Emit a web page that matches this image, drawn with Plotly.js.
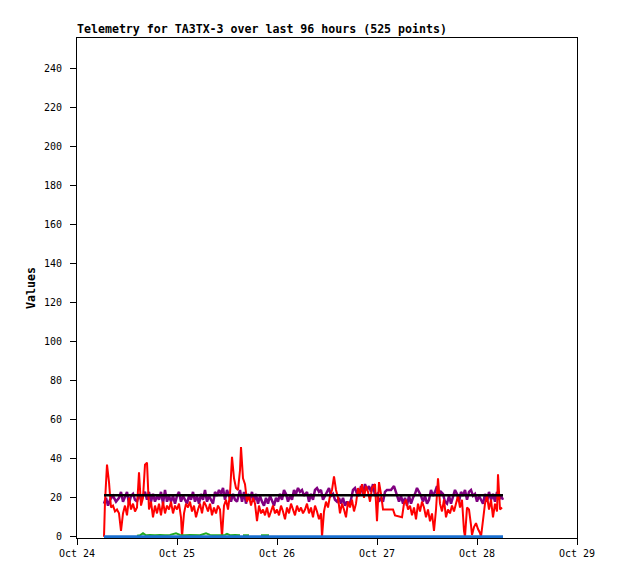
<!DOCTYPE html>
<html>
<head>
<meta charset="utf-8">
<script src="https://cdn.plot.ly/plotly-3.0.1.min.js"></script>
<style>html,body{margin:0;padding:0;background:#fff;}#chart{width:618px;height:579px;}</style>
</head>
<body>
<div id="chart"></div>
<script>
// Times are in days since Oct 24 00:00
const baseDate = "2023-10-24T00:00:00";
const xTickLabels = ["Oct 24", "Oct 25", "Oct 26", "Oct 27", "Oct 28", "Oct 29"];

const redT = [0.27,0.28,0.30,0.32,0.34,0.36,0.38,0.40,0.42,0.44,0.46,0.48,0.50,0.52,0.54,0.56,0.58,0.60,0.62,0.64,0.66,0.68,0.70,0.72,0.74,0.76,0.78,0.80,0.82,0.84,0.86,0.88,0.90,0.92,0.94,0.96,0.98,1.00,1.02,1.04,1.05,1.07,1.09,1.11,1.13,1.15,1.17,1.19,1.21,1.23,1.25,1.27,1.29,1.31,1.33,1.35,1.37,1.39,1.41,1.43,1.45,1.47,1.49,1.51,1.53,1.55,1.57,1.59,1.61,1.63,1.64,1.66,1.68,1.70,1.72,1.74,1.76,1.78,1.80,1.82,1.84,1.86,1.88,1.90,1.92,1.94,1.96,1.98,2.00,2.02,2.04,2.06,2.08,2.10,2.12,2.14,2.16,2.18,2.20,2.22,2.24,2.26,2.28,2.30,2.32,2.34,2.36,2.38,2.40,2.42,2.44,2.45,2.47,2.49,2.51,2.53,2.55,2.57,2.59,2.61,2.63,2.65,2.67,2.69,2.71,2.73,2.75,2.77,2.79,2.81,2.83,2.85,2.87,2.89,2.91,2.93,2.95,2.98,3.00,3.02,3.04,3.06,3.16,3.18,3.25,3.27,3.29,3.31,3.33,3.35,3.37,3.39,3.41,3.43,3.45,3.47,3.49,3.51,3.53,3.55,3.57,3.59,3.61,3.63,3.65,3.67,3.69,3.71,3.73,3.75,3.77,3.79,3.81,3.83,3.85,3.87,3.88,3.90,3.92,3.94,3.95,3.97,3.99,4.01,4.03,4.04,4.06,4.08,4.10,4.12,4.14,4.16,4.18,4.20,4.21,4.23,4.25];
const redV = [0,18,37,28,15,16,13,14,12,3,12,16,11,20,14,17,13,15,33,16,20,37,38,14,18,10,16,12,17,11,18,12,16,14,18,12,16,14,17,10,0,12,17,15,18,13,16,10,14,17,12,18,16,13,17,11,15,12,16,14,0,16,19,14,22,41,30,25,24,34,46,30,27,18,21,16,20,17,8,16,12,14,11,15,10,13,16,12,14,11,16,13,9,15,12,17,14,11,16,13,15,12,14,17,12,15,10,16,13,9,12,0,13,18,15,21,24,31,24,20,12,17,14,10,18,15,19,13,17,25,22,27,20,26,23,18,25,27,8,28,22,14,14,11,10,17,19,14,16,11,15,9,17,13,18,15,10,14,8,12,3,14,30,17,13,19,10,14,12,16,13,17,21,15,19,3,0,15,14,6,1,5,7,4,2,0,10,17,21,14,19,10,17,13,32,14,15];

const purpleT = [0.27,0.29,0.31,0.33,0.36,0.39,0.42,0.44,0.46,0.48,0.50,0.52,0.54,0.56,0.58,0.60,0.62,0.64,0.66,0.68,0.70,0.72,0.74,0.76,0.78,0.80,0.82,0.84,0.86,0.88,0.90,0.92,0.94,0.96,0.98,1.00,1.02,1.04,1.06,1.08,1.10,1.12,1.14,1.16,1.18,1.20,1.22,1.24,1.26,1.28,1.30,1.32,1.34,1.36,1.38,1.40,1.42,1.44,1.46,1.48,1.50,1.52,1.54,1.56,1.58,1.60,1.63,1.65,1.67,1.69,1.71,1.73,1.75,1.77,1.79,1.81,1.83,1.85,1.87,1.89,1.91,1.93,1.95,1.97,1.99,2.01,2.03,2.05,2.07,2.09,2.11,2.13,2.15,2.17,2.19,2.21,2.23,2.25,2.27,2.30,2.32,2.34,2.36,2.38,2.40,2.42,2.44,2.46,2.48,2.50,2.52,2.54,2.56,2.58,2.60,2.62,2.64,2.66,2.68,2.70,2.72,2.74,2.76,2.78,2.80,2.82,2.84,2.86,2.88,2.90,2.92,2.94,2.96,2.98,3.00,3.02,3.04,3.06,3.08,3.10,3.14,3.17,3.20,3.22,3.24,3.26,3.28,3.30,3.32,3.34,3.36,3.38,3.40,3.42,3.44,3.46,3.48,3.50,3.52,3.54,3.56,3.58,3.60,3.62,3.64,3.66,3.68,3.70,3.72,3.74,3.76,3.78,3.80,3.82,3.84,3.86,3.88,3.90,3.92,3.94,3.96,3.98,4.00,4.02,4.04,4.06,4.08,4.10,4.12,4.14,4.16,4.18,4.20,4.22,4.24,4.26];
const purpleV = [17,20,16,19,21,18,20,23,18,21,23,17,21,22,19,18,22,19,21,23,19,23,18,22,18,21,19,23,17,24,18,21,18,21,17,21,23,18,21,19,17,21,19,23,18,21,17,22,19,24,18,21,19,17,23,21,24,22,25,19,24,21,18,22,19,18,24,18,23,17,22,19,23,18,22,17,21,18,16,20,17,21,18,16,20,18,22,19,24,22,18,21,19,24,22,25,23,24,21,23,18,22,19,24,25,23,24,19,21,23,25,21,22,19,18,20,17,20,16,18,16,19,24,25,22,21,26,22,27,24,26,23,27,21,22,18,20,18,23,24,24,26,21,18,21,17,20,16,21,17,20,22,25,23,21,18,21,17,19,24,21,23,26,21,23,22,18,17,21,17,20,24,22,18,23,21,24,19,23,24,21,22,18,21,19,17,22,18,23,19,22,18,23,19,21,19];

const blackT = [0.27, 4.26];
const blackV = [21.3, 21.3];

const greenT = [0.60,0.63,0.66,0.69,0.73,0.78,0.83,0.88,0.93,0.99,1.03,1.08,1.13,1.18,1.23,1.29,1.33,1.38,1.43,1.48,1.50,1.53,1.58,1.63,1.64,1.66,1.72,1.73,1.84,1.92];
const greenV = [0.5,0.8,1.8,0.8,1,0.8,1,0.8,1,1.8,1,0.8,1,1,0.8,1.8,1,0.8,1,1,1.5,0.8,1,0.8,null,0.8,0.8,null,0.8,0.8];

const blueT = [0.27, 4.26];
const blueV = [0, 0];

const DAY = 86400000;
const base = new Date(baseDate + "Z").getTime();
function toDates(days) {
  return days.map(d => new Date(base + d * DAY).toISOString().replace("Z", ""));
}
const tickVals = xTickLabels.map((_, i) => new Date(base + i * DAY).toISOString().replace("Z", ""));

const traces = [
  {x: toDates(purpleT), y: purpleV, mode: "lines", line: {color: "#800080", width: 2.5}, name: "purple"},
  {x: toDates(redT), y: redV, mode: "lines", line: {color: "#ff0000", width: 2}, name: "red"},
  {x: toDates(blackT), y: blackV, mode: "lines", line: {color: "#000000", width: 2.5}, name: "black"},
  {x: toDates(greenT), y: greenV, mode: "lines", line: {color: "#22aa22", width: 2}, connectgaps: false, name: "green"},
  {x: toDates(blueT), y: blueV, mode: "lines", line: {color: "#1a6fd0", width: 3}, name: "blue"}
];

const mono = "DejaVu Sans Mono, Liberation Mono, monospace";
const layout = {
  width: 618, height: 579,
  margin: {l: 77, r: 41, t: 38, b: 41, pad: 0},
  paper_bgcolor: "#ffffff", plot_bgcolor: "#ffffff",
  showlegend: false,
  font: {family: mono, size: 10, color: "#000"},
  title: {
    text: "Telemetry for TA3TX-3 over last 96 hours (525 points)",
    font: {family: mono, size: 11.6, weight: "bold", color: "#000"},
    x: 0, xref: "paper", xanchor: "left",
    y: 1, yref: "paper", yanchor: "bottom", pad: {b: 5, l: 0}
  },
  xaxis: {
    type: "date",
    range: [tickVals[0], tickVals[5]],
    tickmode: "array", tickvals: tickVals, ticktext: xTickLabels,
    ticks: "outside", ticklen: 6, tickcolor: "#000", tickwidth: 1,
    showline: true, linecolor: "#000", linewidth: 1, mirror: true,
    showgrid: false, zeroline: false,
    tickfont: {family: mono, size: 10, color: "#000"},
    automargin: false
  },
  yaxis: {
    range: [-0.6, 255.5],
    tick0: 0, dtick: 20,
    ticks: "outside", ticklen: 6, tickcolor: "#000", tickwidth: 1,
    ticklabelstandoff: 6,
    showline: true, linecolor: "#000", linewidth: 1, mirror: true,
    showgrid: false, zeroline: false,
    tickfont: {family: mono, size: 10, color: "#000"},
    title: {text: "Values", font: {family: mono, size: 11.6, weight: "bold", color: "#000"}, standoff: 5},
    automargin: false
  }
};

Plotly.newPlot("chart", traces, layout, {staticPlot: true, displayModeBar: false});
</script>
</body>
</html>
